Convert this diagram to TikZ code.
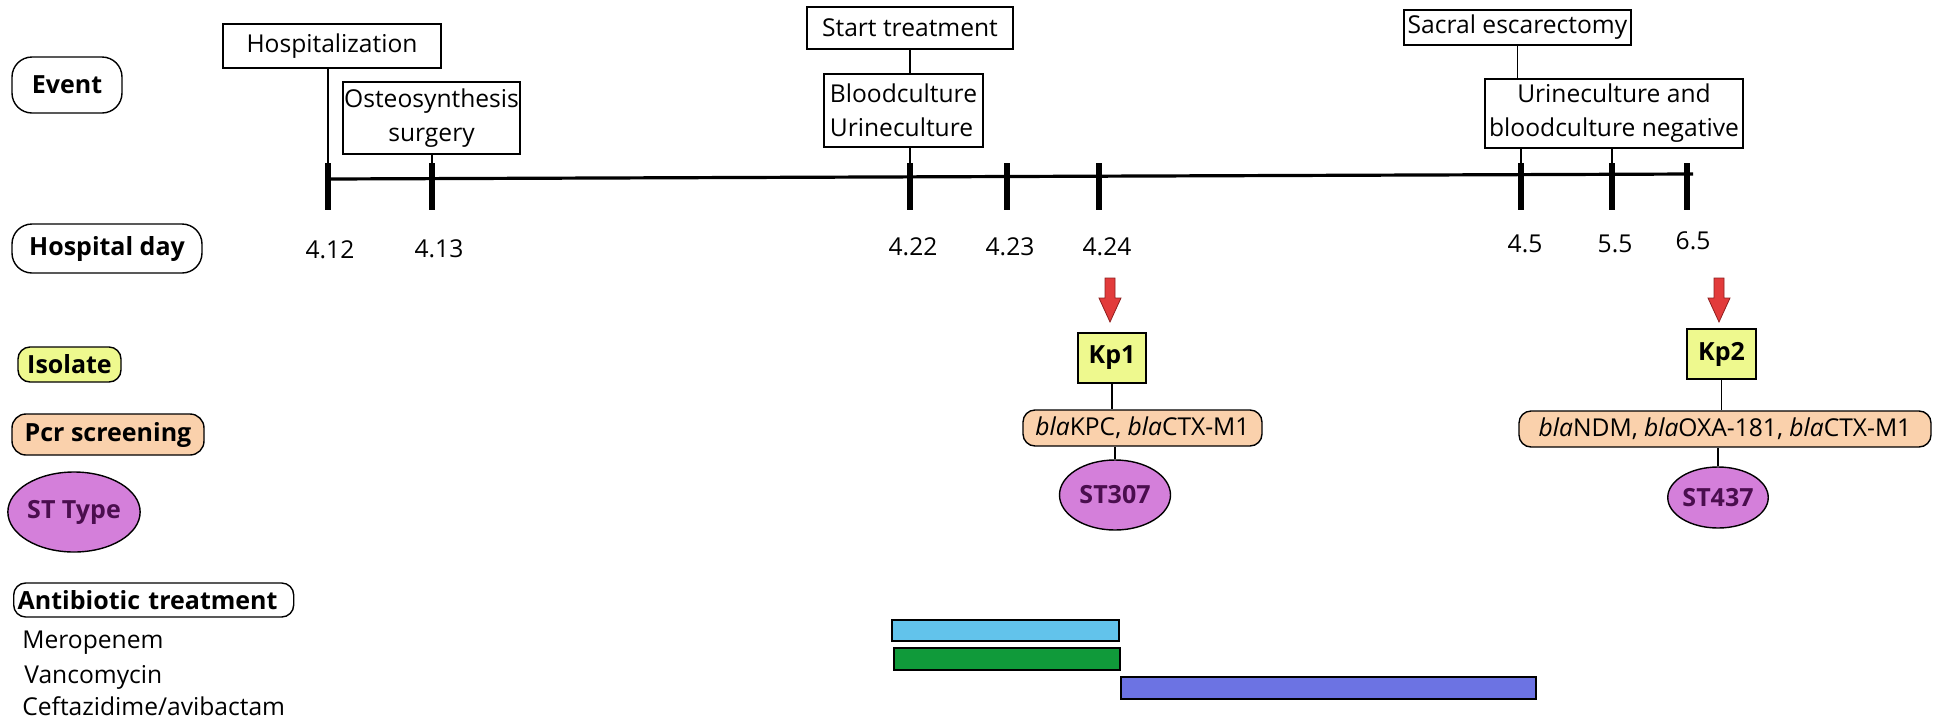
\documentclass[tikz,border=0pt]{standalone}
\usepackage{fontspec}
\setmainfont{Open Sans}
\usetikzlibrary{shapes.geometric}
\definecolor{isolatec}{HTML}{EEF98E}
\definecolor{pcrc}{HTML}{FAD1AC}
\definecolor{stc}{HTML}{D47FDA}
\definecolor{sttext}{HTML}{4A0E4E}
\definecolor{merc}{HTML}{62C3EB}
\definecolor{vanc}{HTML}{109A3A}
\definecolor{cefc}{HTML}{6C73E3}
\definecolor{arrowc}{HTML}{E23B3B}
\definecolor{arrowd}{HTML}{8E1F1F}
\begin{document}
\begin{tikzpicture}[x=0.5pt,y=-0.5pt,
  txt/.style={font=\fontsize{12.3}{17}\selectfont, inner sep=0pt},
  lab/.style={draw, line width=0.7pt, font=\bfseries\fontsize{12.5}{15}\selectfont, inner sep=0pt},
  evbox/.style={draw, line width=0.7pt, font=\fontsize{12.3}{17}\selectfont, inner sep=0pt, align=center},
  pcrbox/.style={draw, line width=0.7pt, fill=pcrc, rounded corners=6pt, font=\fontsize{12.3}{15}\selectfont, inner sep=0pt},
  stell/.style={draw, line width=0.7pt, ellipse, fill=stc, text=sttext, font=\bfseries\fontsize{12.5}{15}\selectfont, inner sep=0pt},
  tickmark/.style={line width=2.6pt},
  conn/.style={line width=0.6pt},
  bar/.style={draw, line width=0.7pt, inner sep=0pt},
]
\useasboundingbox (0,0) rectangle (1949,724);

% left labels
\node[lab, rounded corners=10pt, minimum width=55pt, minimum height=28pt] (lEvent) at (67,85) {Event};
\node[lab, rounded corners=10pt, minimum width=95pt, minimum height=24.5pt] (lDay) at (107,248.5) {Hospital day};
\node[lab, rounded corners=6pt, fill=isolatec, minimum width=51.5pt, minimum height=17.5pt] (lIso) at (69.5,364.5) {Isolate};
\node[lab, rounded corners=7pt, fill=pcrc, minimum width=96pt, minimum height=20.5pt] (lPcr) at (108,434.5) {Pcr screening};
\node[stell, minimum width=62pt, minimum height=40pt] (lST) at (74,512) {ST Type};
\node[lab, rounded corners=6pt, anchor=west, text width=136pt, inner xsep=2pt, minimum height=17pt, align=left] (lAb) at (13,600) {Antibiotic treatment};

\node[txt, anchor=base west] (dMer) at (22,648) {Meropenem};
\node[txt, anchor=base west] (dVan) at (24,683) {Vancomycin};
\node[txt, anchor=base west] (dCef) at (22,715) {Ceftazidime/avibactam};

% events
\node[evbox, minimum width=109pt, minimum height=22pt] (eHosp) at (332,46) {Hospitalization};
\node[evbox, minimum width=88.5pt, minimum height=36pt] (eOst) at (431.5,118) {Osteosynthesis\\surgery};
\node[evbox, minimum width=103pt, minimum height=21pt] (eStart) at (910,28) {Start treatment};
\node[evbox, align=left, minimum width=79.5pt, minimum height=36.5pt] (eCult) at (903.5,110.5) {Bloodculture\\Urineculture};
\node[evbox, minimum width=113.5pt, minimum height=17.5pt] (eSacral) at (1517.5,27.5) {Sacral escarectomy};
\node[evbox, minimum width=129pt, minimum height=34.5pt] (eNeg) at (1614,113.5) {Urineculture and\\bloodculture negative};

% axis
\coordinate (axL) at (328,179);
\coordinate (axR) at (1693,174);
\draw[line width=1.6pt] (axL) -- (axR);
\foreach \x/\n in {328/a,432/b,910/c,1007/d,1099/e,1521/f,1612/g,1687/h}{
  \coordinate (t\n) at (\x,163);
  \coordinate (u\n) at (\x,210);
  \draw[tickmark] (t\n) -- (u\n);
}
% day labels
\node[txt] (da) at (330,250) {4.12};
\node[txt] (db) at (439,249) {4.13};
\node[txt] (dc) at (913,247) {4.22};
\node[txt] (dd) at (1010,247) {4.23};
\node[txt] (de) at (1107,247) {4.24};
\node[txt] (df) at (1525,244) {4.5};
\node[txt] (dg) at (1615,244) {5.5};
\node[txt] (dh) at (1693,241) {6.5};

% event connectors
\draw[conn] (ta |- eHosp.south) -- (ta);
\draw[conn] (tb |- eOst.south) -- (tb);
\draw[conn] (eStart.south) -- (eStart.south |- eCult.north);
\draw[conn] (tc |- eCult.south) -- (tc);
\draw[conn] (eSacral.south) -- (eSacral.south |- eNeg.north);
\draw[conn] (tf |- eNeg.south) -- (tf);
\draw[conn] (tg |- eNeg.south) -- (tg);

% isolates
\node[lab, fill=isolatec, minimum width=34pt, minimum height=25pt] (kp1) at (1112,358) {Kp1};
\node[lab, fill=isolatec, minimum width=34.5pt, minimum height=25pt] (kp2) at (1721.5,354) {Kp2};
\node[pcrbox, minimum width=119.5pt, minimum height=18pt] (bla1) at (1142.5,428) {\textit{bla}KPC, \textit{bla}CTX-M1};
\node[pcrbox, minimum width=206pt, minimum height=18pt] (bla2) at (1725,429) {\textit{bla}NDM, \textit{bla}OXA-181, \textit{bla}CTX-M1};
\node[stell, minimum width=55.5pt, minimum height=35pt] (st1) at (1115,495) {ST307};
\node[stell, minimum width=47pt, minimum height=30.5pt] (st2) at (1718,497.5) {ST437};

\draw[conn] (kp1.south) -- (kp1.south |- bla1.north);
\draw[conn] (st1.north) -- (st1.north |- bla1.south);
\draw[conn] (kp2.south) -- (kp2.south |- bla2.north);
\draw[conn] (st2.north) -- (st2.north |- bla2.south);

% red arrows
\foreach \x in {1110,1719}{
  \draw[fill=arrowc, draw=arrowd, line width=0.4pt]
    (\x-5,278) -- (\x+5,278) -- (\x+5,298) -- (\x+11,298) -- (\x,322) -- (\x-11,298) -- (\x-5,298) -- cycle;
}

% treatment bars
\node[bar, fill=merc, minimum width=113.5pt, minimum height=10.5pt] (bMer) at (1005.5,630.5) {};
\node[bar, fill=vanc, minimum width=113pt, minimum height=11pt] (bVan) at (1007,659) {};
\node[bar, fill=cefc, minimum width=207.5pt, minimum height=11pt] (bCef) at (1328.5,688) {};
\end{tikzpicture}
\end{document}
